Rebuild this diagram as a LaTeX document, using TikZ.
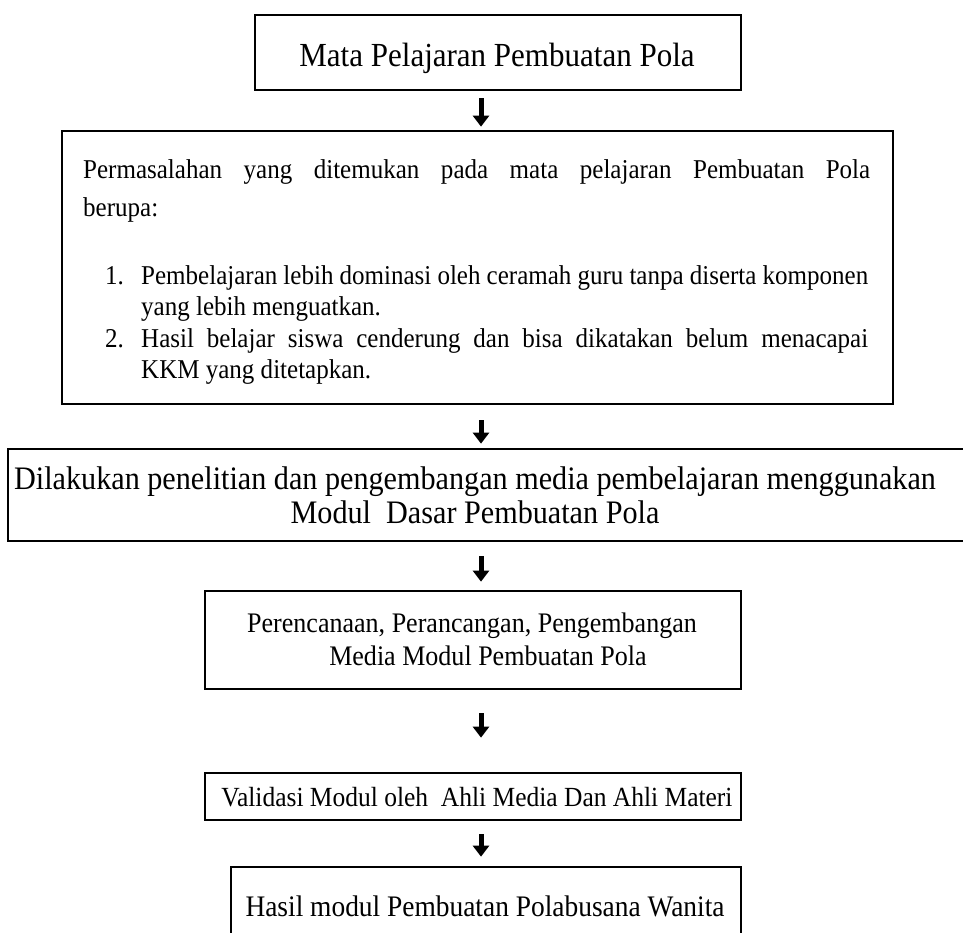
\documentclass[tikz,border=0pt]{standalone}
\usepackage{fontspec}
\setmainfont{Liberation Serif}[FakeStretch=0.92]
\usetikzlibrary{arrows.meta}
\begin{document}
\begin{tikzpicture}[x=1pt,y=-1pt,
  box/.style={draw, line width=2.7pt, inner sep=0pt},
  arr/.style={line width=5pt, -{Triangle[width=16pt,length=11pt]}},
  tx/.style={inner sep=0pt, anchor=base},
  txl/.style={inner sep=0pt, anchor=base west},
  fA/.style={font=\fontsize{33.7}{38}\selectfont},
  fB/.style={font=\fontsize{27.2}{32}\selectfont},
  fC/.style={font=\fontsize{32.8}{38}\selectfont},
  fD/.style={font=\fontsize{28.3}{33}\selectfont},
  fE/.style={font=\fontsize{27.7}{32}\selectfont},
  fF/.style={font=\fontsize{29.8}{34}\selectfont}]
\useasboundingbox (0,0) rectangle (963,933);
\clip (0,0) rectangle (963,933);
% boxes
\node[box, minimum width=486pt, minimum height=75pt] (b1) at (498,52.5) {};
\node[box, minimum width=831pt, minimum height=273pt] (b2) at (477.5,267.5) {};
\node[box, minimum width=972pt, minimum height=92pt] (b3) at (494,495) {};
\node[box, minimum width=536pt, minimum height=98pt] (b4) at (473,640) {};
\node[box, minimum width=536pt, minimum height=47pt] (b5) at (473,796.5) {};
\node[box, minimum width=510pt, minimum height=113pt] (b6) at (486,923.5) {};
% texts
\node[tx, fA] (t1) at (497,67) {Mata Pelajaran Pembuatan Pola};
\node[txl, fB] (p1) at (83,179) {\makebox[787pt][s]{Permasalahan yang ditemukan pada mata pelajaran Pembuatan Pola}};
\node[txl, fB] (p2) at (83,217) {berupa:};
\node[txl, fB] (n1) at (105,284) {1.};
\node[txl, fB] (i1a) at (141,284) {\makebox[727pt][s]{Pembelajaran lebih dominasi oleh ceramah guru tanpa diserta komponen}};
\node[txl, fB] (i1b) at (141,315) {yang lebih menguatkan.};
\node[txl, fB] (n2) at (105,347) {2.};
\node[txl, fB] (i2a) at (141,347) {\makebox[727pt][s]{Hasil belajar siswa cenderung dan bisa dikatakan belum menacapai}};
\node[txl, fB] (i2b) at (141,378) {KKM yang ditetapkan.};
\node[tx, fC] (d1) at (475,489) {Dilakukan penelitian dan pengembangan media pembelajaran menggunakan};
\node[tx, fC] (d2) at (475,523) {Modul\ \ Dasar Pembuatan Pola};
\node[tx, fD] (e1) at (472,632) {Perencanaan, Perancangan, Pengembangan};
\node[tx, fD] (e2) at (488,665) {Media Modul Pembuatan Pola};
\node[tx, fE] (v1) at (477,806) {Validasi Modul oleh\ \ Ahli Media Dan Ahli Materi};
\node[tx, fF] (h1) at (485,916) {Hasil modul Pembuatan Polabusana Wanita};
% arrows
\coordinate (ax) at (481,0);
\draw[arr, shorten <=7pt, shorten >=3pt] (b1.south -| ax) -- (b2.north -| ax);
\draw[arr, shorten <=15pt, shorten >=4pt] (b2.south -| ax) -- (b3.north -| ax);
\draw[arr, shorten <=14pt, shorten >=8pt] (b3.south -| ax) -- (b4.north -| ax);
\draw[arr, shorten <=23pt, shorten >=34pt] (b4.south -| ax) -- (b5.north -| ax);
\draw[arr, shorten <=13pt, shorten >=9pt] (b5.south -| ax) -- (b6.north -| ax);
\end{tikzpicture}
\end{document}
